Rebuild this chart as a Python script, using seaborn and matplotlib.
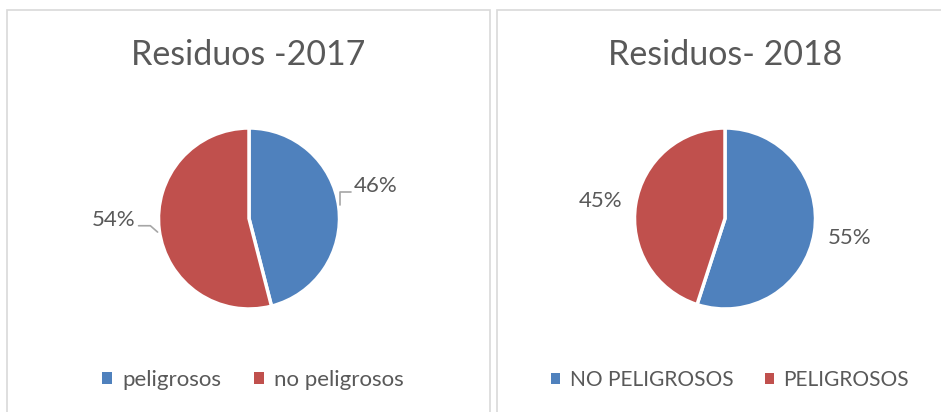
import matplotlib
matplotlib.use("Agg")
import matplotlib.pyplot as plt
import seaborn as sns
from matplotlib.patches import Rectangle, Patch

# chart data
titles = ["Residuos -2017", "Residuos- 2018"]
labels_2017 = ["peligrosos", "no peligrosos"]
values_2017 = [46, 54]
labels_2018 = ["NO PELIGROSOS", "PELIGROSOS"]
values_2018 = [55, 45]

sns.set_theme(style="white")
plt.rcParams['font.family'] = ['Lato', 'DejaVu Sans']

palette = sns.color_palette(["#4F81BD", "#C0504D"])
text_col = "#595959"
line_col = "#A6A6A6"

W, H = 941, 412
fig = plt.figure(figsize=(W / 100, H / 100), dpi=100)

# panel frames
fig.patches.append(Rectangle((7 / W, -0.05), 483 / W, (H - 10) / H + 0.05,
                             transform=fig.transFigure, fill=False,
                             edgecolor="#D9D9D9", lw=1.2))
fig.patches.append(Rectangle((497 / W, -0.05), 460 / W, (H - 10) / H + 0.05,
                             transform=fig.transFigure, fill=False,
                             edgecolor="#D9D9D9", lw=1.2))

r_px = 90.5
centers = [(249, 218.5), (725, 218.5)]
title_x = [248, 725]
legend_x = [253, 730]
legend_fs = [16, 15]

# label positions (in pie radius units) and leader lines
label_pos = [[(1.40, 0.36), (-1.50, -0.02)],
             [(1.38, -0.22), (-1.38, 0.19)]]
leaders = [[[(1.005, 0.15), (1.005, 0.29), (1.13, 0.29)],
            [(-1.22, -0.08), (-1.09, -0.08), (-1.01, -0.15)]],
           [None, None]]

panels = [(labels_2017, values_2017), (labels_2018, values_2018)]

for i, (labs, vals) in enumerate(panels):
    cx, cy = centers[i]
    ax = fig.add_axes([(cx - r_px) / W, (H - cy - r_px) / H,
                       2 * r_px / W, 2 * r_px / H])
    ax.pie(vals, colors=palette, startangle=90, counterclock=False,
           wedgeprops=dict(edgecolor="white", linewidth=2.5))
    ax.set_xlim(-1, 1)
    ax.set_ylim(-1, 1)
    ax.set_aspect("equal")
    ax.axis("off")

    total = sum(vals)
    for j, v in enumerate(vals):
        px, py = label_pos[i][j]
        ax.text(px, py, f"{round(100 * v / total)}%", ha="center", va="center",
                fontsize=16, color=text_col)
        if leaders[i][j] is not None:
            xs, ys = zip(*leaders[i][j])
            ax.plot(xs, ys, color=line_col, lw=1.2, clip_on=False)

    fig.text(title_x[i] / W, (H - 55) / H, titles[i], ha="center", va="center",
             fontsize=24.5, color=text_col)

    handles = [Patch(facecolor=palette[k], edgecolor="none", label=labs[k])
               for k in range(len(labs))]
    ax.legend(handles=handles, loc="center", ncol=2, frameon=False,
              bbox_to_anchor=(legend_x[i] / W, (H - 380) / H),
              bbox_transform=fig.transFigure, fontsize=legend_fs[i],
              handlelength=0.45, handleheight=0.45, handletextpad=0.45,
              columnspacing=1.5, labelcolor=text_col)

fig.savefig("out.png", dpi=100, facecolor="white")
